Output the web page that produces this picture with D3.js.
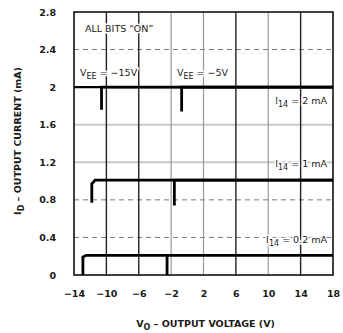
<!DOCTYPE html>
<html>
<head>
<meta charset="utf-8">
<script src="https://cdn.jsdelivr.net/npm/d3@7"></script>
<style>
  body { margin: 0; background: #fff; }
  text { font-family: "DejaVu Sans", sans-serif; fill: #1a1a1a; }
</style>
</head>
<body>
<div id="chart"></div>
<script>
// axis ticks
const xTicks = [-14, -10, -6, -2, 2, 6, 10, 14, 18];
const yTicks = [0, 0.4, 0.8, 1.2, 1.6, 2, 2.4, 2.8];

// curves: [V_O, I_D]
const i2mA_vee15 = [[-10.6, 1.76], [-10.6, 2.0], [18, 2.0]];
const i2mA_vee5 = [[-0.7, 1.74], [-0.7, 2.0], [18, 2.0]];
const i1mA_vee15 = [[-11.8, 0.77], [-11.8, 0.97], [-11.4, 1.01], [18, 1.01]];
const i1mA_vee5 = [[-1.6, 0.74], [-1.6, 1.01], [18, 1.01]];
const i02mA_vee15 = [[-12.9, 0], [-12.9, 0.19], [-12.5, 0.21], [18, 0.21]];
const i02mA_vee5 = [[-2.5, 0], [-2.5, 0.21]];
const curves = [i2mA_vee15, i2mA_vee5, i1mA_vee15, i1mA_vee5, i02mA_vee15, i02mA_vee5];

const width = 343, height = 333;
const margin = {left: 74, top: 12, right: 10, bottom: 58};
const w = width - margin.left - margin.right;
const h = height - margin.top - margin.bottom;

const svg = d3.select("#chart").append("svg")
    .attr("width", width)
    .attr("height", height);

const g = svg.append("g")
    .attr("transform", "translate(" + margin.left + "," + margin.top + ")");

const x = d3.scaleLinear().domain([-14, 18]).range([0, w]);
const y = d3.scaleLinear().domain([0, 2.8]).range([h, 0]);

const light = d => d === 1.2 || d === 1.6;

// horizontal grid
g.selectAll(".hgrid")
    .data(yTicks.slice(1, -1))
    .enter()
    .append("line")
    .attr("x1", 0).attr("x2", w)
    .attr("y1", d => y(d)).attr("y2", d => y(d))
    .attr("stroke", d => d === 2 ? "#000" : light(d) ? "#c8c8c8" : "#777")
    .attr("stroke-width", d => d === 2 ? 2.4 : light(d) ? 2 : 1)
    .attr("stroke-dasharray", d => (light(d) || d === 2) ? null : "5,4");

// vertical grid
const dark = d => d === -10 || d === -6 || d === 6 || d === 14;
g.selectAll(".vgrid")
    .data(xTicks.slice(1, -1))
    .enter()
    .append("line")
    .attr("x1", d => x(d)).attr("x2", d => x(d))
    .attr("y1", 0).attr("y2", h)
    .attr("stroke", d => dark(d) ? "#222" : "#999")
    .attr("stroke-width", d => dark(d) ? 1.4 : 1.2);

// frame
g.append("rect")
    .attr("width", w).attr("height", h)
    .attr("fill", "none")
    .attr("stroke", "#111")
    .attr("stroke-width", 1.6);

// curves
const line = d3.line().x(d => x(d[0])).y(d => y(d[1]));
g.selectAll(".curve")
    .data(curves)
    .enter()
    .append("path")
    .attr("d", line)
    .attr("fill", "none")
    .attr("stroke", "#000")
    .attr("stroke-width", 2.8);

// axes labels
const xAxis = d3.axisBottom(x).tickValues(xTicks).tickSize(0).tickPadding(15)
    .tickFormat(d => d < 0 ? "\u2212" + Math.abs(d) : d);
g.append("g")
    .attr("transform", "translate(0," + h + ")")
    .call(xAxis)
    .call(s => s.select(".domain").remove())
    .selectAll("text")
    .attr("font-family", "DejaVu Sans")
    .attr("font-size", 9.5)
    .attr("font-weight", "bold")
    .attr("fill", "#222");

const yAxis = d3.axisLeft(y).tickValues(yTicks).tickSize(0).tickPadding(18)
    .tickFormat(d => d);
g.append("g")
    .call(yAxis)
    .call(s => s.select(".domain").remove())
    .selectAll("text")
    .attr("font-family", "DejaVu Sans")
    .attr("font-size", 9.5)
    .attr("font-weight", "bold")
    .attr("fill", "#222");

// annotations
function sub(t, main, subscript, rest) {
  t.append("tspan").text(main);
  t.append("tspan").attr("dy", 3).attr("font-size", 8).text(subscript);
  t.append("tspan").attr("dy", -3).text(rest);
}
function label(px, py, anchor) {
  return g.append("text").attr("x", px).attr("y", py)
      .attr("text-anchor", anchor).attr("font-size", 9.5)
      .attr("stroke", "#fff").attr("stroke-width", 3).attr("paint-order", "stroke");
}

label(11, 20, "start").text("ALL BITS \u201cON\u201d");
sub(label(6, 64, "start"), "V", "EE", " = \u221215V");
sub(label(103, 64, "start"), "V", "EE", " = \u22125V");
sub(label(w - 6, 92, "end"), "I", "14", " = 2 mA");
sub(label(w - 6, 155, "end"), "I", "14", " = 1 mA");
sub(label(w - 6, 231, "end"), "I", "14", " = 0.2 mA");

// axis titles
sub(svg.append("text")
    .attr("x", margin.left + w / 2 + 2).attr("y", 327)
    .attr("text-anchor", "middle").attr("font-size", 9.5).attr("font-weight", "bold"),
    "V", "O", " \u2013 OUTPUT VOLTAGE (V)");

sub(svg.append("text")
    .attr("transform", "translate(21," + 141 + ") rotate(-90)")
    .attr("text-anchor", "middle").attr("font-size", 9.5).attr("font-weight", "bold"),
    "I", "D", " \u2013 OUTPUT CURRENT (mA)");
</script>
</body>
</html>
